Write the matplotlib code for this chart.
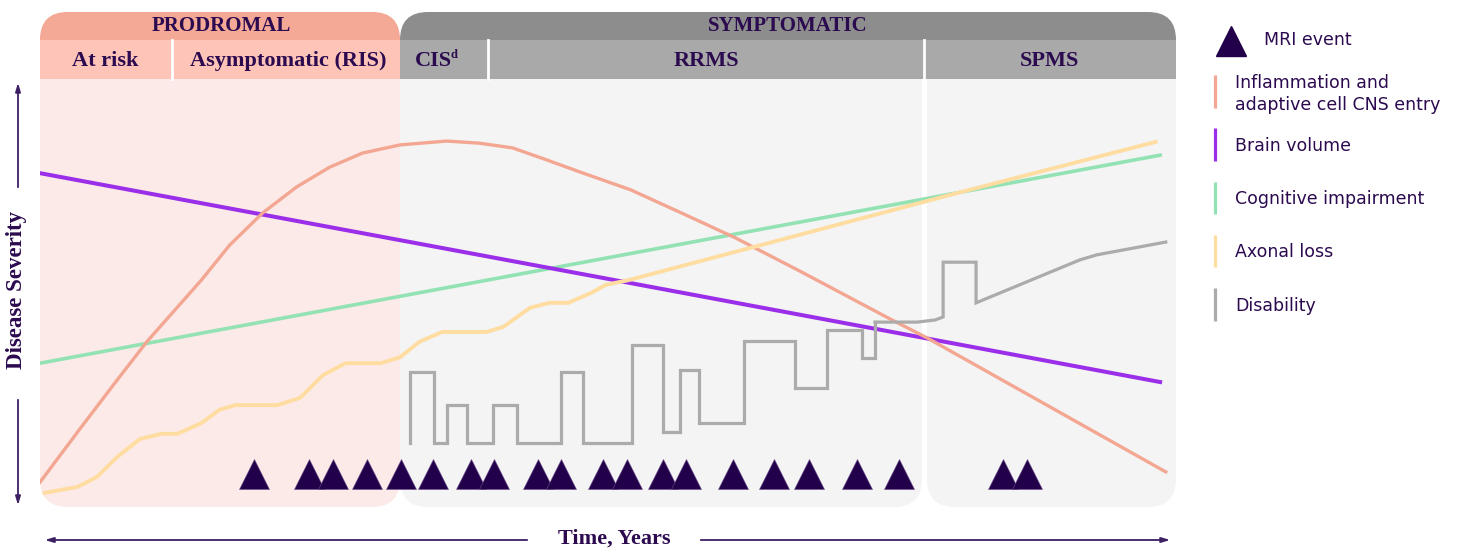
import matplotlib.pyplot as plt
from matplotlib.patches import FancyBboxPatch, Rectangle

# time (0-100) vs disease severity (0-100)
brain_t = [0, 50, 98.6]
brain_s = [78.0, 53.3, 29.2]

cog_t = [0, 98.6]
cog_s = [33.6, 82.2]

infl_t = [0, 3.5, 6.8, 9.4, 14.2, 16.7, 19.6, 22.6, 25.5, 28.4, 31.7, 35.8, 38.7, 41.6, 44.6,
          47.5, 52.0, 56.3, 61.2, 66.9, 75.0, 78.1, 99.1]
infl_s = [5.8, 18.2, 29.7, 38.6, 53.0, 61.2, 68.7, 74.8, 79.4, 82.7, 84.6, 85.5, 85.0, 83.9, 81.1,
          78.3, 74.1, 68.9, 62.9, 55.1, 43.7, 39.5, 8.2]

axon_t = [0.4, 3.3, 5.0, 6.8, 8.8, 10.7, 12.1, 14.2, 15.8, 17.2, 20.9, 22.9, 24.9, 26.9, 30.0,
          31.7, 33.4, 35.4, 39.3, 40.8, 43.1, 44.8, 46.5, 48.5, 49.8, 51.8, 80.8, 98.2]
axon_s = [3.3, 4.7, 7.0, 11.7, 15.9, 17.1, 17.1, 19.6, 22.7, 23.8, 23.8, 25.5, 30.8, 33.6, 33.6,
          35.0, 38.6, 40.9, 40.9, 42.1, 46.5, 47.7, 47.7, 50.0, 51.9, 53.0, 73.4, 85.3]

# relapsing disability (steps) and progressive disability
relapse_t = [32.6, 32.6, 34.7, 35.8, 37.6, 39.9, 42.0, 45.9, 47.8, 52.1, 54.8, 56.3, 58.0,
             62.0, 66.5, 69.3, 72.4, 73.5]
relapse_s = [15.0, 31.5, 15.0, 23.8, 15.0, 23.8, 15.0, 31.5, 15.0, 37.9, 17.5, 32.0, 19.6,
             38.8, 27.8, 41.4, 34.8, 43.2]
prog_t = [73.5, 77.2, 78.8, 79.5, 79.5, 82.4, 82.4, 91.5, 93.0, 99.1]
prog_s = [43.2, 43.2, 43.7, 44.4, 57.2, 57.2, 47.7, 57.7, 58.9, 61.9]

mri_t = [18.8, 23.7, 25.8, 28.8, 31.8, 34.6, 37.9, 40.0, 43.8, 45.9, 49.6, 51.7, 54.8,
         56.9, 61.0, 64.6, 67.7, 71.9, 75.6, 84.8, 86.9]
mri_level = 7.7

legend_labels = ['Inflammation and\nadaptive cell CNS entry', 'Brain volume',
                 'Cognitive impairment', 'Axonal loss', 'Disability']

c_infl = '#F3A792'
c_brain = '#9B2FE9'
c_cog = '#93E2B4'
c_axon = '#FFDDA1'
c_dis = '#ABABAB'
c_mri = '#22004A'
c_text = '#2B0A4F'
legend_colors = [c_infl, c_brain, c_cog, c_axon, c_dis]

fig = plt.figure(figsize=(14.74, 5.5), dpi=100)

# background / layout in pixel units
bg = fig.add_axes([0, 0, 1, 1])
bg.set_xlim(0, 1474)
bg.set_ylim(550, 0)
bg.axis('off')

rs = 'round,pad=0,rounding_size=28'
prod = FancyBboxPatch((40, 12), 360, 495, boxstyle=rs, fc='#FCEAE8', ec='none')
bg.add_patch(prod)
for y0, h, col in [(12, 28, '#F4A896'), (40, 39, '#FDC4B7')]:
    r = Rectangle((40, y0), 360, h, fc=col, ec='none')
    bg.add_patch(r)
    r.set_clip_path(prod)

symp = FancyBboxPatch((400, 12), 776, 495, boxstyle=rs, fc='none', ec='none')
bg.add_patch(symp)
bg.add_patch(FancyBboxPatch((400, 12), 522, 495, boxstyle=rs, fc='#F4F4F4', ec='none'))
bg.add_patch(FancyBboxPatch((927, 12), 249, 495, boxstyle=rs, fc='#F4F4F4', ec='none'))
for y0, h, col in [(12, 28, '#8D8D8D'), (40, 39, '#A9A9A9')]:
    r = Rectangle((400, y0), 776, h, fc=col, ec='none')
    bg.add_patch(r)
    r.set_clip_path(symp)

for xd in [172, 488, 924.5]:
    bg.plot([xd, xd], [40, 79], color='white', lw=2)

serif = dict(family='Liberation Serif', weight='bold', color=c_text, va='center')
bg.text(221, 26, 'PRODROMAL', ha='center', fontsize=15, **serif)
bg.text(788, 26, 'SYMPTOMATIC', ha='center', fontsize=15, **serif)
bg.text(105, 61, 'At risk', ha='center', fontsize=16, **serif)
bg.text(288, 61, 'Asymptomatic (RIS)', ha='center', fontsize=16, **serif)
bg.text(452, 61, 'CIS', ha='right', fontsize=16, **serif)
bg.text(451, 55, 'd', ha='left', fontsize=9, **serif)
bg.text(706, 61, 'RRMS', ha='center', fontsize=16, **serif)
bg.text(1050, 61, 'SPMS', ha='center', fontsize=16, **serif)

# axis arrows
arr = dict(arrowstyle='-|>,head_length=0.5,head_width=0.15', color='#3D1F63', lw=1.3)
bg.annotate('', xy=(18, 80), xytext=(18, 190), arrowprops=arr)
bg.annotate('', xy=(18, 508), xytext=(18, 397), arrowprops=arr)
bg.text(17, 290, 'Disease Severity', rotation=90, ha='center', fontsize=16.5, **serif)
bg.annotate('', xy=(42, 540), xytext=(530, 540), arrowprops=arr)
bg.annotate('', xy=(1173, 540), xytext=(698, 540), arrowprops=arr)
bg.text(614, 539, 'Time, Years', ha='center', fontsize=16, **serif)

# legend
bg.plot(1231, 41, marker='^', ms=22, color=c_mri, ls='none')
sans = dict(family='DejaVu Sans', color=c_text, fontsize=12.5, va='center')
bg.text(1264, 40, 'MRI event', **sans)
leg_y = [(75, 108, 94), (128, 161, 146), (182, 214, 199), (235, 267, 252), (288, 321, 306)]
for (y0, y1, yt), lab, col in zip(leg_y, legend_labels, legend_colors):
    bg.plot([1215, 1215], [y0, y1], color=col, lw=2.3, solid_capstyle='butt')
    bg.text(1235, yt, lab, linespacing=1.3, **sans)

# data axes over the plot body
ax = fig.add_axes([40 / 1474, 43 / 550, 1136 / 1474, 428 / 550])
ax.set_xlim(0, 100)
ax.set_ylim(0, 100)
ax.axis('off')

ax.plot(cog_t, cog_s, color=c_cog, lw=2.6)
ax.plot(brain_t, brain_s, color=c_brain, lw=2.9)
ax.plot(infl_t, infl_s, color=c_infl, lw=2.4)
ax.plot(axon_t, axon_s, color=c_axon, lw=2.8, solid_joinstyle='round')
ax.step(relapse_t, relapse_s, where='post', color=c_dis, lw=2.3, solid_joinstyle='miter')
ax.plot(prog_t, prog_s, color=c_dis, lw=2.3, solid_joinstyle='miter')
ax.plot(mri_t, [mri_level] * len(mri_t), marker='^', ms=21, color=c_mri, ls='none',
        markeredgecolor='#6B4E8A', markeredgewidth=0.4, clip_on=False)

fig.savefig('out.png', dpi=100)
